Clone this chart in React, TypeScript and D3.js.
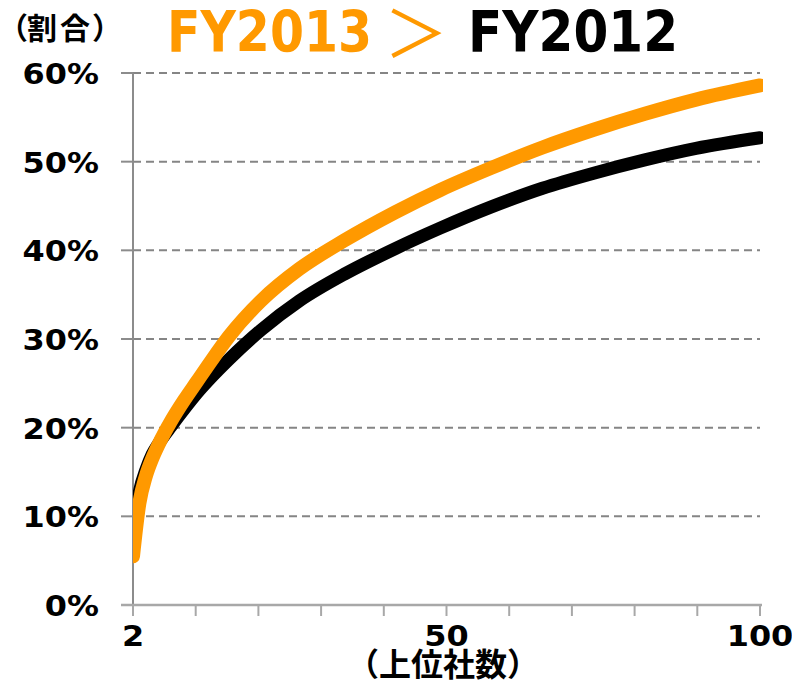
import React from "react";
import * as d3 from "d3";

// ---- data ----
const ranks = [2, 3, 4, 5, 6, 8, 10, 12, 14, 17, 22, 28, 35, 43, 50, 58, 66, 74, 82, 90, 100];
const fy2013 = [5.5, 11.5, 14.5, 16.5, 18.1, 20.8, 23.1, 25.2, 27.3, 30.3, 34.3, 37.9, 41.1, 44.3, 46.8, 49.3, 51.6, 53.6, 55.4, 57.0, 58.6];
const fy2012 = [8.0, 12.8, 15.2, 17.0, 18.2, 20.2, 22.1, 23.9, 25.5, 27.7, 31.0, 34.3, 37.3, 40.2, 42.5, 44.9, 47.0, 48.7, 50.2, 51.5, 52.7];
const yTicks = [0, 10, 20, 30, 40, 50, 60];
const xTickCount = 10; // intervals between tick marks
const xLabelIdx = [0, 5, 10];
const xLabels = ["2", "50", "100"];
const titleLeft = "FY2013";
const titleSep = "＞";
const titleRight = "FY2012";
const yAxisTitleChars = ["（", "割", "合", "）"];
const xAxisTitle = "（上位社数）";

const W = 792;
const H = 681;
const X0 = 133;
const X1 = 760;
const Y0 = 605;
const Y1 = 73;
const ORANGE = "#FF9900";

export default function App() {
  const x = d3.scaleLinear().domain([2, 100]).range([X0, X1]);
  const y = d3.scaleLinear().domain([0, 60]).range([Y0, Y1]);
  const tickPos = d3.scaleLinear().domain([0, xTickCount]).range([X0, X1]);

  const line = d3
    .line<number>()
    .x((_, i) => x(ranks[i]))
    .y((d) => y(d))
    .curve(d3.curveMonotoneX);

  const num = '"DejaVu Sans", Verdana, sans-serif';
  const cjk = '"Noto Sans CJK JP", sans-serif';
  const yTitleX = [-2, 27, 60, 92];

  return (
    <svg width={W} height={H} style={{ position: "absolute", left: 0, top: 0, background: "#fff" }}>
      <defs>
        <clipPath id="plotclip">
          <rect x={X0} y={0} width={X1 - X0 + 3} height={Y0} />
        </clipPath>
      </defs>
      <rect x={0} y={0} width={W} height={H} fill="#fff" />

      {/* gridlines */}
      {yTicks.filter((t) => t > 0).map((t) => (
        <line key={"g" + t} x1={X0} x2={X1} y1={y(t)} y2={y(t)} stroke="#858585" strokeWidth={2} strokeDasharray="8,5" />
      ))}
      {/* y-axis */}
      <line x1={X0} x2={X0} y1={Y1} y2={Y0} stroke="#8c8c8c" strokeWidth={2} />
      {yTicks.map((t) => (
        <line key={"yt" + t} x1={121} x2={X0} y1={y(t)} y2={y(t)} stroke="#8c8c8c" strokeWidth={2} />
      ))}
      {/* x-axis */}
      <line x1={121} x2={762} y1={Y0} y2={Y0} stroke="#a8a8a8" strokeWidth={2.5} />
      {d3.range(0, xTickCount + 1).map((i) => (
        <line key={"xt" + i} x1={tickPos(i)} x2={tickPos(i)} y1={Y0} y2={616} stroke="#a8a8a8" strokeWidth={2} />
      ))}

      {/* lines */}
      <g clipPath="url(#plotclip)">
        <path d={line(fy2012) || ""} fill="none" stroke="#000" strokeWidth={13} strokeLinecap="round" strokeLinejoin="round" />
        <path d={line(fy2013) || ""} fill="none" stroke={ORANGE} strokeWidth={14} strokeLinecap="round" strokeLinejoin="round" />
      </g>

      {/* y tick labels */}
      {yTicks.map((t) => (
        <text
          key={"yl" + t}
          transform={`translate(99,${y(t) + 11}) scale(1.14,1)`}
          textAnchor="end"
          fontFamily={num}
          fontWeight="bold"
          fontSize={28}
          fill="#000"
        >
          {t + "%"}
        </text>
      ))}
      {/* x tick labels */}
      {xLabelIdx.map((idx, k) => (
        <text
          key={"xl" + k}
          transform={`translate(${tickPos(idx)},646) scale(1.14,1)`}
          textAnchor="middle"
          fontFamily={num}
          fontWeight="bold"
          fontSize={28}
          fill="#000"
        >
          {xLabels[k]}
        </text>
      ))}

      {/* axis titles */}
      <text y={39} fontFamily={cjk} fontWeight="bold" fontSize={30} fill="#000">
        {yAxisTitleChars.map((c, i) => (
          <tspan key={i} x={yTitleX[i]}>{c}</tspan>
        ))}
      </text>
      <text x={443} y={676} textAnchor="middle" fontFamily={cjk} fontWeight="bold" fontSize={32} fill="#000">
        {xAxisTitle}
      </text>

      {/* title */}
      <text x={167} y={52} fontFamily={num} fontWeight="bold" fontSize={57} fill={ORANGE} textLength={205} lengthAdjust="spacingAndGlyphs">
        {titleLeft}
      </text>
      <text x={416} y={57} textAnchor="middle" fontFamily={cjk} fontSize={64} fill={ORANGE}>
        {titleSep}
      </text>
      <text x={468} y={52} fontFamily={num} fontWeight="bold" fontSize={57} fill="#000" textLength={210} lengthAdjust="spacingAndGlyphs">
        {titleRight}
      </text>
    </svg>
  );
}
